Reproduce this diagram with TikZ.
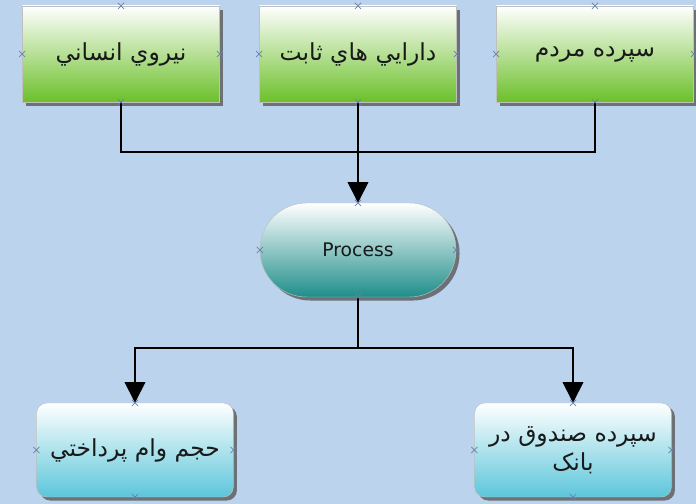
\documentclass[tikz,border=0pt]{standalone}
\usepackage{fontspec}
\setmainfont{DejaVu Sans}
\newfontfamily\arabicfont[Script=Arabic]{DejaVu Sans}
\TeXXeTstate=1
\usetikzlibrary{arrows.meta, shadows, calc}
\definecolor{skyback}{HTML}{BCD3EE}
\definecolor{leafgreen}{HTML}{6CC02A}
\definecolor{tealdark}{HTML}{1F8E8A}
\definecolor{aquablue}{HTML}{5CC6DA}
\definecolor{pinblue}{HTML}{6A7FA8}
\tikzset{
    boxtext/.style = {font=\arabicfont\fontsize{20}{25}\selectfont, text=black!90, align=center},
    inbox/.style = {boxtext, draw=gray!50, minimum width=5.92cm, minimum height=2.88cm,
        top color=white, middle color=leafgreen!75, bottom color=leafgreen,
        drop shadow={shadow xshift=3pt, shadow yshift=-3pt, fill=gray!70!black, opacity=0.8}},
    procbox/.style = {draw=gray!50, minimum width=5.88cm, minimum height=2.82cm, rounded corners=1.4cm,
        top color=white, bottom color=tealdark, font=\fontsize{16}{19}\selectfont, text=black!90,
        drop shadow={shadow xshift=3pt, shadow yshift=-3pt, fill=gray!70!black, opacity=0.8}},
    outbox/.style = {boxtext, draw=gray!50, minimum width=5.9cm, minimum height=2.82cm, rounded corners=0.3cm,
        top color=white, bottom color=aquablue,
        drop shadow={shadow xshift=3pt, shadow yshift=-3pt, fill=gray!70!black, opacity=0.8}},
    link/.style = {line width=1.4pt, black},
    flow/.style = {link, -{Triangle[width=0.62cm, length=0.62cm]}},
    pics/pin/.style = {
        code = {%
        \draw[pinblue, line width=0.6pt] (-2.6pt,-2.6pt) -- (2.6pt,2.6pt) (-2.6pt,2.6pt) -- (2.6pt,-2.6pt);
        }
    },
}
\begin{document}
\begin{tikzpicture}[x=0.03cm, y=-0.03cm]
\fill[skyback] (0,0) rectangle (696,504);
\useasboundingbox (0,0) rectangle (696,504);

% inputs
\node[inbox] (staff) at (121,54) {\beginR نيروي انساني\endR};
\node[inbox] (assets) at (358,54) {\beginR دارايي هاي ثابت\endR};
\node[inbox] (deposit) at (595,54) {\beginR سپرده مردم\endR};

% process
\node[procbox] (proc) at (358,250) {Process};

% outputs
\node[outbox] (loan) at (135,450) {\beginR حجم وام پرداختي\endR};
\node[outbox] (fund) at (573,450) {\beginR سپرده صندوق در\endR\\\beginR بانک\endR};

\coordinate (topbus) at (358,152);
\coordinate (lowbus) at (358,348);

\draw[link] (staff.south) |- (topbus);
\draw[link] (deposit.south) |- (topbus);
\draw[flow] (assets.south) -- (proc.north);

\draw[link] (proc.south) -- (lowbus);
\draw[flow] (lowbus) -| (loan.north);
\draw[flow] (lowbus) -| (fund.north);

% connection marks
\foreach \n in {staff, assets, deposit, proc, loan, fund}
  \foreach \a in {north, south, east, west}
    \pic at (\n.\a) {pin};
\end{tikzpicture}
\end{document}
